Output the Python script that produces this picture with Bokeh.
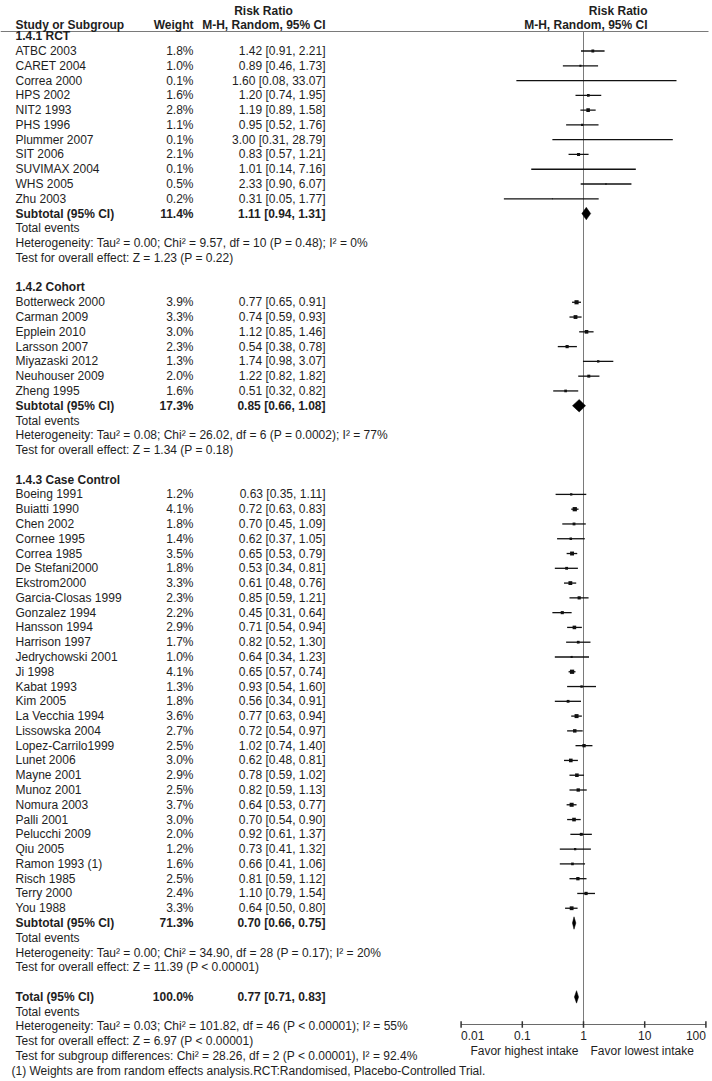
import math
from bokeh.plotting import figure
from bokeh.models import Range1d, LogScale, ColumnDataSource
from bokeh.core.properties import value
from bokeh.embed import file_html
from bokeh.resources import INLINE

# ---------------- data ----------------
rct_names = ["ATBC 2003", "CARET 2004", "Correa 2000", "HPS 2002", "NIT2 1993", "PHS 1996",
             "Plummer 2007", "SIT 2006", "SUVIMAX 2004", "WHS 2005", "Zhu 2003"]
rct_weight = [1.8, 1.0, 0.1, 1.6, 2.8, 1.1, 0.1, 2.1, 0.1, 0.5, 0.2]
rct_rr = [1.42, 0.89, 1.60, 1.20, 1.19, 0.95, 3.00, 0.83, 1.01, 2.33, 0.31]
rct_lo = [0.91, 0.46, 0.08, 0.74, 0.89, 0.52, 0.31, 0.57, 0.14, 0.90, 0.05]
rct_hi = [2.21, 1.73, 33.07, 1.95, 1.58, 1.76, 28.79, 1.21, 7.16, 6.07, 1.77]
rct_sub = [11.4, 1.11, 0.94, 1.31]

coh_names = ["Botterweck 2000", "Carman 2009", "Epplein 2010", "Larsson 2007", "Miyazaski 2012",
             "Neuhouser 2009", "Zheng 1995"]
coh_weight = [3.9, 3.3, 3.0, 2.3, 1.3, 2.0, 1.6]
coh_rr = [0.77, 0.74, 1.12, 0.54, 1.74, 1.22, 0.51]
coh_lo = [0.65, 0.59, 0.85, 0.38, 0.98, 0.82, 0.32]
coh_hi = [0.91, 0.93, 1.46, 0.78, 3.07, 1.82, 0.82]
coh_sub = [17.3, 0.85, 0.66, 1.08]

cc_names = ["Boeing 1991", "Buiatti 1990", "Chen 2002", "Cornee 1995", "Correa 1985",
            "De Stefani2000", "Ekstrom2000", "Garcia-Closas 1999", "Gonzalez 1994",
            "Hansson 1994", "Harrison 1997", "Jedrychowski 2001", "Ji 1998", "Kabat 1993",
            "Kim 2005", "La Vecchia 1994", "Lissowska 2004", "Lopez-Carrilo1999", "Lunet 2006",
            "Mayne 2001", "Munoz 2001", "Nomura 2003", "Palli 2001", "Pelucchi 2009",
            "Qiu 2005", "Ramon 1993 (1)", "Risch 1985", "Terry 2000", "You 1988"]
cc_weight = [1.2, 4.1, 1.8, 1.4, 3.5, 1.8, 3.3, 2.3, 2.2, 2.9, 1.7, 1.0, 4.1, 1.3, 1.8, 3.6,
             2.7, 2.5, 3.0, 2.9, 2.5, 3.7, 3.0, 2.0, 1.2, 1.6, 2.5, 2.4, 3.3]
cc_rr = [0.63, 0.72, 0.70, 0.62, 0.65, 0.53, 0.61, 0.85, 0.45, 0.71, 0.82, 0.64, 0.65, 0.93,
         0.56, 0.77, 0.72, 1.02, 0.62, 0.78, 0.82, 0.64, 0.70, 0.92, 0.73, 0.66, 0.81, 1.10, 0.64]
cc_lo = [0.35, 0.63, 0.45, 0.37, 0.53, 0.34, 0.48, 0.59, 0.31, 0.54, 0.52, 0.34, 0.57, 0.54,
         0.34, 0.63, 0.54, 0.74, 0.48, 0.59, 0.59, 0.53, 0.54, 0.61, 0.41, 0.41, 0.59, 0.79, 0.50]
cc_hi = [1.11, 0.83, 1.09, 1.05, 0.79, 0.81, 0.76, 1.21, 0.64, 0.94, 1.30, 1.23, 0.74, 1.60,
         0.91, 0.94, 0.97, 1.40, 0.81, 1.02, 1.13, 0.77, 0.90, 1.37, 1.32, 1.06, 1.12, 1.54, 0.80]
cc_sub = [71.3, 0.70, 0.66, 0.75]

total_all = [100.0, 0.77, 0.71, 0.83]

group_titles = ["1.4.1 RCT", "1.4.2 Cohort", "1.4.3 Case Control"]
group_het = [
    "Heterogeneity: Tau\u00b2 = 0.00; Chi\u00b2 = 9.57, df = 10 (P = 0.48); I\u00b2 = 0%",
    "Heterogeneity: Tau\u00b2 = 0.08; Chi\u00b2 = 26.02, df = 6 (P = 0.0002); I\u00b2 = 77%",
    "Heterogeneity: Tau\u00b2 = 0.00; Chi\u00b2 = 34.90, df = 28 (P = 0.17); I\u00b2 = 20%",
]
group_test = [
    "Test for overall effect: Z = 1.23 (P = 0.22)",
    "Test for overall effect: Z = 1.34 (P = 0.18)",
    "Test for overall effect: Z = 11.39 (P < 0.00001)",
]
total_notes = [
    "Total events",
    "Heterogeneity: Tau\u00b2 = 0.03; Chi\u00b2 = 101.82, df = 46 (P < 0.00001); I\u00b2 = 55%",
    "Test for overall effect: Z = 6.97 (P < 0.00001)",
    "Test for subgroup differences: Chi\u00b2 = 28.26, df = 2 (P < 0.00001), I\u00b2 = 92.4%",
]
footnote = "(1) Weights are from random effects analysis.RCT:Randomised, Placebo-Controlled Trial."

header_cols = ["Study or Subgroup", "Weight", "M-H, Random, 95% CI"]
header_rr = "Risk Ratio"
tick_values = [0.01, 0.1, 1, 10, 100]
tick_labels = ["0.01", "0.1", "1", "10", "100"]
favor_left = "Favor highest intake"
favor_right = "Favor lowest intake"

# ---------------- layout constants ----------------
W, H = 711, 1080
ROW = 14.78                  # pixels per row
TOP = 1 - 50.5 / ROW         # row value at top edge of the figure
X_NAME, X_W, X_CI = 15, 193, 325
X_HEAD_RR = 263
X_PLOT_HEAD = 647
ONE_PX, DECADE = 583.0, 61.2   # pixel of RR=1 and px per decade
FONT = value("Liberation Sans")
FS = "12px"
TXT = "#1e1e1e"

def prow(px):
    return TOP + px / ROW

groups = [
    (group_titles[0], rct_names, rct_weight, rct_rr, rct_lo, rct_hi, rct_sub, group_het[0], group_test[0]),
    (group_titles[1], coh_names, coh_weight, coh_rr, coh_lo, coh_hi, coh_sub, group_het[1], group_test[1]),
    (group_titles[2], cc_names, cc_weight, cc_rr, cc_lo, cc_hi, cc_sub, group_het[2], group_test[2]),
]

def ci_str(e, l, h):
    return f"{e:.2f} [{l:.2f}, {h:.2f}]"

norm = dict(x=[], y=[], t=[])
bold = dict(x=[], y=[], t=[], a=[])
wcol = dict(x=[], y=[], t=[])
study = dict(y=[], rr=[], lo=[], hi=[], size=[])
dia = dict(xs=[], ys=[])

def add_diamond(r, e, l, h):
    hh = 0.42
    dia["xs"].append([l, e, h, e])
    dia["ys"].append([r, r - hh, r, r + hh])

r = 0
for title, names, ws, rrs, los, his, sub, het, test in groups:
    bold["x"].append(X_NAME); bold["y"].append(r); bold["t"].append(title); bold["a"].append("left")
    r += 1
    for n, w, e, l, h in zip(names, ws, rrs, los, his):
        norm["x"] += [X_NAME]; norm["y"] += [r]; norm["t"] += [n]
        wcol["x"] += [X_W, X_CI]; wcol["y"] += [r, r]; wcol["t"] += [f"{w:.1f}%", ci_str(e, l, h)]
        study["y"].append(r); study["rr"].append(e); study["lo"].append(l); study["hi"].append(h)
        study["size"].append(2.1 * math.sqrt(w))
        r += 1
    bold["x"] += [X_NAME, X_W, X_CI]; bold["y"] += [r, r, r]
    bold["t"] += ["Subtotal (95% CI)", f"{sub[0]:.1f}%", ci_str(*sub[1:])]
    bold["a"] += ["left", "right", "right"]
    add_diamond(r, *sub[1:])
    r += 1
    for s in ["Total events", het, test]:
        norm["x"].append(X_NAME); norm["y"].append(r); norm["t"].append(s)
        r += 1
    r += 1

bold["x"] += [X_NAME, X_W, X_CI]; bold["y"] += [r, r, r]
bold["t"] += ["Total (95% CI)", f"{total_all[0]:.1f}%", ci_str(*total_all[1:])]
bold["a"] += ["left", "right", "right"]
add_diamond(r, *total_all[1:])
r += 1
for s in total_notes:
    norm["x"].append(X_NAME); norm["y"].append(r); norm["t"].append(s)
    r += 1
foot_row = r

axis_row = prow(1024)
tick_lab_row = prow(1035)
favor_row = prow(1050)
head1_row = prow(10)
head2_row = prow(24)
line_row = prow(31)

# ---------------- figure ----------------
rr_start = 10 ** (-(ONE_PX) / DECADE)
rr_end = 10 ** ((W - ONE_PX) / DECADE)

p = figure(width=W, height=H, output_backend="svg", toolbar_location=None,
           x_range=Range1d(0, W), y_range=Range1d(TOP + H / ROW, TOP),
           x_axis_location=None, y_axis_location=None, min_border=0,
           outline_line_color=None, background_fill_color="white",
           border_fill_color="white")
p.extra_x_ranges = {"rr": Range1d(rr_start, rr_end)}
p.extra_x_scales = {"rr": LogScale()}
p.xgrid.visible = False
p.ygrid.visible = False

# header rule
p.segment(x0=[0], x1=[708], y0=[line_row], y1=[line_row], line_color="#7a7a7a", line_width=1)

# headers
p.text(x=[X_HEAD_RR], y=[head1_row], text=[header_rr], text_align="center", text_baseline="middle",
       text_font=FONT, text_font_size=FS, text_font_style="bold", text_color=TXT)
p.text(x="x", y="y", text="t", text_align="a",
       source=ColumnDataSource(dict(x=[X_NAME, X_W, X_CI], y=[head2_row] * 3, t=header_cols,
                                    a=["left", "right", "right"])),
       text_baseline="middle", text_font=FONT, text_font_size=FS,
       text_font_style="bold", text_color=TXT)
p.text(x=[X_PLOT_HEAD, X_PLOT_HEAD], y=[head1_row, head2_row], text=[header_rr, header_cols[2]],
       text_align="right", text_baseline="middle", text_font=FONT, text_font_size=FS,
       text_font_style="bold", text_color=TXT)

# vertical line of no effect
p.segment(x0=[1], x1=[1], y0=[line_row], y1=[axis_row + 0.2], line_color="#7a7a7a", line_width=1,
          x_range_name="rr")

# table text
p.text(x="x", y="y", text="t", source=ColumnDataSource(norm), text_align="left", text_baseline="middle",
       text_font=FONT, text_font_size=FS, text_color=TXT)
p.text(x="x", y="y", text="t", source=ColumnDataSource(wcol), text_align="right", text_baseline="middle",
       text_font=FONT, text_font_size=FS, text_color=TXT)
p.text(x="x", y="y", text="t", text_align="a", source=ColumnDataSource(bold), text_baseline="middle",
       text_font=FONT, text_font_size=FS, text_font_style="bold", text_color=TXT)
p.text(x=[X_NAME - 4], y=[foot_row], text=[footnote], text_align="left", text_baseline="middle",
       text_font=FONT, text_font_size=FS, text_color=TXT)

# study CIs and boxes
src = ColumnDataSource(study)
p.segment(x0="lo", x1="hi", y0="y", y1="y", source=src, line_color="#111111", line_width=1.3,
          x_range_name="rr")
p.scatter(x="rr", y="y", size="size", marker="square", source=src, fill_color="#111111",
          line_color=None, x_range_name="rr")

# diamonds
p.patches(xs="xs", ys="ys", source=ColumnDataSource(dia), fill_color="black", line_color="black",
          line_width=0.5, x_range_name="rr")

# bottom axis
p.segment(x0=[tick_values[0]], x1=[tick_values[-1]], y0=[axis_row], y1=[axis_row],
          line_color="#6a6a6a", line_width=1, x_range_name="rr")
p.segment(x0=tick_values, x1=tick_values, y0=[axis_row - 0.22] * len(tick_values),
          y1=[axis_row + 0.22] * len(tick_values), line_color="#333333", line_width=1.5,
          x_range_name="rr")
aligns = ["left"] + ["center"] * (len(tick_values) - 2) + ["right"]
p.text(x="x", y="y", text="t", text_align="a",
       source=ColumnDataSource(dict(x=tick_values, y=[tick_lab_row] * len(tick_values),
                                    t=tick_labels, a=aligns)),
       text_baseline="middle", text_font=FONT, text_font_size=FS, text_color=TXT, x_range_name="rr")
p.text(x="x", y="y", text="t", text_align="a", x_offset="o",
       source=ColumnDataSource(dict(x=[1, 1], y=[favor_row, favor_row], t=[favor_left, favor_right],
                                    a=["right", "left"], o=[-5, 7])),
       text_baseline="middle", text_font=FONT, text_font_size=FS, text_color=TXT, x_range_name="rr")

open("out.html", "w").write(file_html(p, INLINE))
